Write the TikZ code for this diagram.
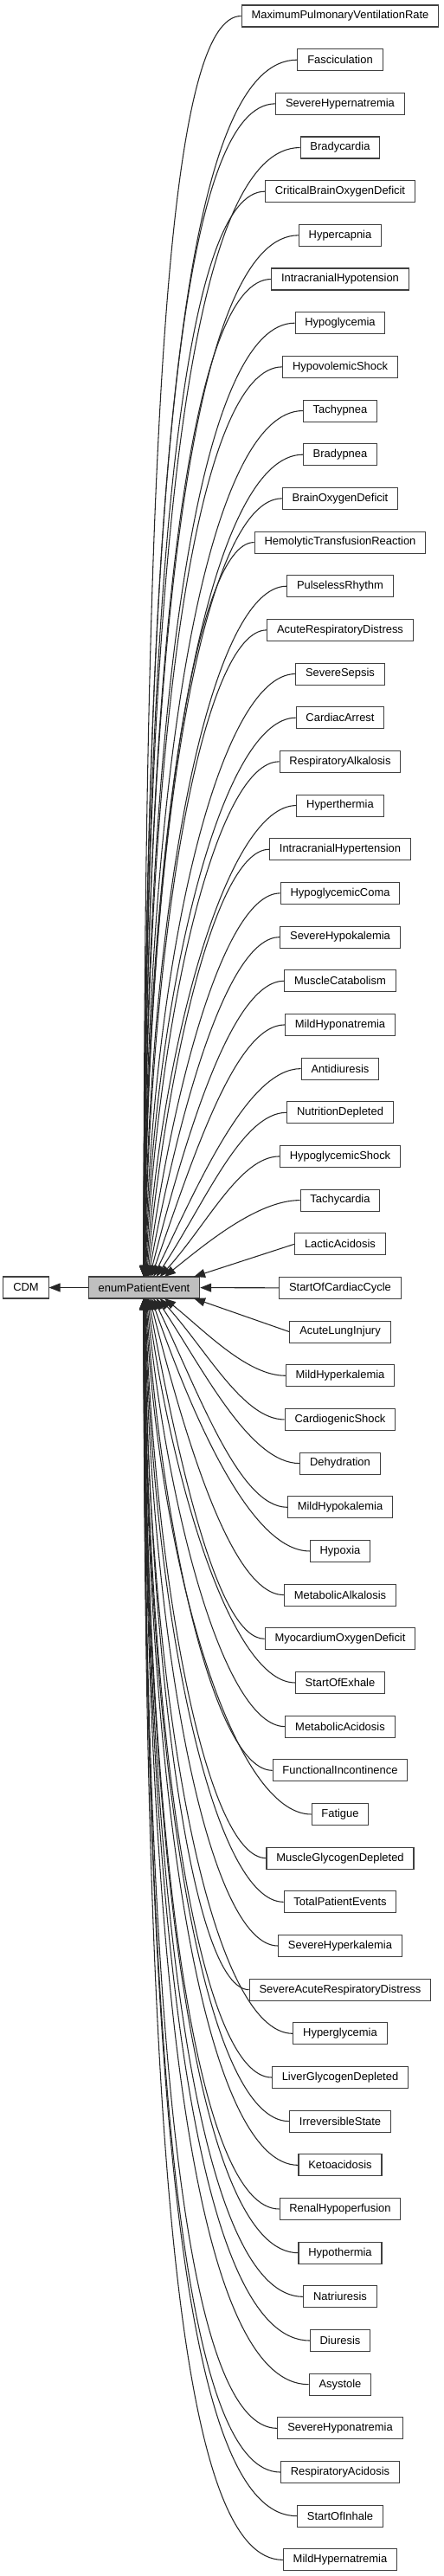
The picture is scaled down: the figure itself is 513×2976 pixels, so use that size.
\documentclass[tikz,border=0pt]{standalone}
\usepackage{fontspec}
\setmainfont{Liberation Sans}
\usepackage{tikz}
\usetikzlibrary{arrows.meta,shapes}

\tikzset{
  evbox/.style={draw=black!75, line width=0.8pt, fill=white, inner xsep=8.5pt, inner ysep=0pt,
    minimum height=18.75pt, font=\fontsize{9.7}{11.6}\selectfont},
  mainbox/.style={evbox, fill=black!25},
  link/.style={draw=black!85, line width=0.8pt, -{Triangle[length=9.75pt,width=7.5pt]}}
}

\begin{document}
\begin{tikzpicture}[x=0.75pt,y=-0.75pt]
        \useasboundingbox (0,0) rectangle (513,2976);
        \node[evbox] (CDM) at (30,1487.5) {CDM};
        \node[mainbox] (enumPatientEvent) at (166.5,1487.5) {enumPatientEvent};
        \draw[link] (enumPatientEvent) -- (CDM);
        \foreach \lbl [count=\k] in {MaximumPulmonaryVentilationRate, Fasciculation, SevereHypernatremia,
            Bradycardia, CriticalBrainOxygenDeficit, Hypercapnia, IntracranialHypotension, Hypoglycemia,
            HypovolemicShock, Tachypnea, Bradypnea, BrainOxygenDeficit, HemolyticTransfusionReaction,
            PulselessRhythm, AcuteRespiratoryDistress, SevereSepsis, CardiacArrest, RespiratoryAlkalosis,
            Hyperthermia, IntracranialHypertension, HypoglycemicComa, SevereHypokalemia, MuscleCatabolism,
            MildHyponatremia, Antidiuresis, NutritionDepleted, HypoglycemicShock, Tachycardia,
            LacticAcidosis, StartOfCardiacCycle, AcuteLungInjury, MildHyperkalemia, CardiogenicShock,
            Dehydration, MildHypokalemia, Hypoxia, MetabolicAlkalosis, MyocardiumOxygenDeficit,
            StartOfExhale, MetabolicAcidosis, FunctionalIncontinence, Fatigue, MuscleGlycogenDepleted,
            TotalPatientEvents, SevereHyperkalemia, SevereAcuteRespiratoryDistress, Hyperglycemia,
            LiverGlycogenDepleted, IrreversibleState, Ketoacidosis, RenalHypoperfusion, Hypothermia,
            Natriuresis, Diuresis, Asystole, SevereHyponatremia, RespiratoryAcidosis, StartOfInhale,
            MildHypernatremia}{
          \node[evbox] (\lbl) at (393,{18.5+(\k-1)*50.67}) {\lbl};
          \pgfmathtruncatemacro\dist{abs(\k-30)}
          \pgfmathsetmacro\sgn{(\k<30) ? -1 : 1}
          \ifnum\dist=0 \draw[link] (\lbl) -- (enumPatientEvent); \fi
          \ifnum\dist=1 \draw[link] (\lbl.west) -- (224,{1487.5+\sgn*12.5}); \fi
          \ifnum\dist>1
            % fan-in curve to the top or bottom side
            \path (\lbl.west); \pgfgetlastxy{\sx}{\sy}
            \pgfmathsetmacro\sxp{\sx/0.75}
            \pgfmathsetmacro\syp{-\sy/0.75}
            \pgfmathsetmacro\ex{166+24*exp(-(\dist-2)/4)}
            \pgfmathsetmacro\ey{1487.5+\sgn*12.5}
            \pgfmathsetmacro\D{abs(\ey-\syp)}
            \pgfmathsetmacro\runx{(0.29+0.00029*\D)*(\sxp-\ex)}
            \pgfmathsetmacro\hgt{(0.4+0.00021*\D)*\D}
            \pgfmathsetmacro\slope{1.3*exp(-(\D-82)/160)}
            \draw[link] (\lbl.west) .. controls +(-\runx,0) and +(\slope*\hgt,\sgn*\hgt) .. (\ex,\ey);
          \fi
        }
    \end{tikzpicture}
\end{document}
